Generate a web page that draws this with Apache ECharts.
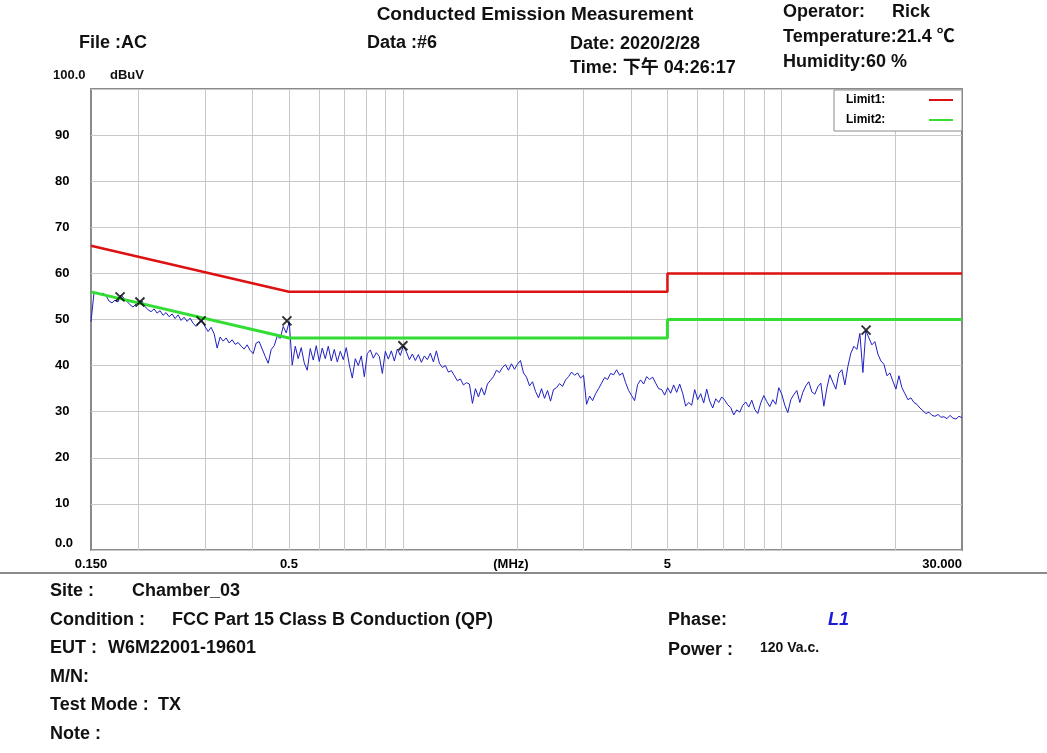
<!DOCTYPE html>
<html>
<head>
<meta charset="utf-8">
<script src="https://cdn.jsdelivr.net/npm/echarts@6/dist/echarts.min.js"></script>
<style>
  html, body { margin: 0; background: #fff; }
  #main { width: 1047px; height: 753px; }
</style>
</head>
<body>
<div id="main"></div>
<script>
  // receiver sweep, 0.15 - 30 MHz, log spaced points
  var sweepStart = 0.15;
  var sweepStop = 30;
  var level = [
    49.5, 55.8, 55.9, 55.6, 55.7, 55.2, 54.0, 53.6, 54.2, 53.8,
    55.3, 54.6, 53.9, 53.2, 52.7, 53.4, 53.9, 54.0, 52.8, 52.1,
    51.7, 52.3, 51.4, 51.9, 50.9, 51.5, 50.6, 51.2, 50.2, 51.0,
    49.8, 50.5, 49.6, 50.3, 49.2, 48.5, 49.4, 49.8, 48.4, 47.4,
    48.3, 46.9, 43.8, 46.2, 45.3, 46.0, 44.9, 45.6, 44.6, 45.0,
    44.2, 43.6, 44.5, 43.3, 42.6, 44.9, 45.2, 43.6, 42.0, 40.5,
    43.5, 44.3, 46.4, 45.9, 48.5, 47.1, 49.5, 40.1, 44.2, 41.5,
    43.9, 40.6, 39.0, 43.7, 41.2, 44.3, 40.9, 43.8, 41.5, 44.2,
    41.0, 43.5, 40.8, 43.1, 41.3, 43.9, 40.2, 37.3, 41.5, 40.0,
    42.1, 37.6, 42.6, 43.4, 41.6, 42.8, 42.0, 38.3, 43.1, 41.4,
    43.2, 41.0, 43.6, 42.2, 44.3, 43.0, 41.3, 42.5, 41.1, 42.4,
    40.7, 42.1, 41.3, 42.7, 40.8, 43.2, 40.5, 39.6, 40.0, 38.6,
    38.9, 37.8, 36.7, 37.1, 35.8, 36.3, 36.0, 31.8, 35.0, 33.2,
    35.2, 33.6, 36.0, 36.8, 37.6, 39.0, 38.5, 39.6, 40.2, 39.0,
    40.4, 39.2, 40.3, 41.1, 38.4, 37.5, 35.6, 36.5, 34.4, 33.0,
    35.0, 32.9, 34.6, 32.3, 34.8, 35.2, 36.1, 35.5, 36.9, 37.6,
    38.6, 37.9, 38.4, 37.3, 37.9, 31.6, 33.4, 32.4, 33.9, 35.0,
    36.2, 37.4, 37.0, 38.3, 38.0, 39.1, 37.9, 38.4, 36.3, 34.6,
    33.5, 32.4, 35.9, 36.9, 36.0, 37.6, 37.0, 37.5, 36.2, 35.0,
    34.8, 33.6, 35.2, 34.0, 35.8, 34.2, 36.0, 34.0, 31.2, 32.0,
    31.4, 34.8, 32.6, 33.9, 31.9, 34.9, 32.3, 30.8, 32.8, 32.0,
    33.2, 32.5, 31.5, 30.9, 29.3, 30.4, 29.9, 31.4, 32.1, 31.0,
    32.5, 30.5, 29.6, 31.9, 33.5, 32.2, 31.1, 32.6, 31.6, 35.2,
    33.8, 31.4, 29.8, 32.6, 33.7, 34.6, 32.0, 34.2, 35.6, 36.5,
    34.3, 33.8, 35.4, 36.2, 31.2, 35.1, 38.0, 36.4, 34.9, 38.3,
    39.1, 35.8, 39.8, 42.7, 44.2, 43.5, 47.0, 38.5, 47.6, 46.0,
    44.5, 45.2, 42.5, 41.0, 40.3, 37.8, 38.4, 36.6, 34.9, 37.8,
    35.2, 33.9, 32.6, 33.0, 32.0, 31.6, 30.8, 30.2, 29.6, 29.9,
    29.2, 29.0, 29.4, 28.8, 28.9, 28.5, 29.2, 28.6, 28.4, 29.0,
    28.7
  ];

  var limit1Freq = [0.15, 0.5, 5, 5, 30];
  var limit1Level = [66, 56, 56, 60, 60];
  var limit2Freq = [0.15, 0.5, 5, 5, 30];
  var limit2Level = [56, 46, 46, 50, 50];

  // peaks marked with X
  var peakFreq = [0.179, 0.202, 0.293, 0.494, 1.0, 16.74];
  var peakLevel = [54.9, 53.8, 49.7, 49.7, 44.3, 47.7];

  var gridFreq = [0.2, 0.3, 0.4, 0.5, 0.6, 0.7, 0.8, 0.9, 1, 2, 3, 4, 5, 6, 7, 8, 9, 10, 20];
  var xLabelFreq = [0.15, 0.5, 1.93, 5, 30];
  var xLabelText = ['0.150', '0.5', '(MHz)', '5', '30.000'];

  var FONT = 'Arial, "Liberation Sans", "Noto Sans CJK SC", sans-serif';

  var trace = [];
  for (var i = 0; i < level.length; i++) {
    var f = sweepStart * Math.pow(sweepStop / sweepStart, i / (level.length - 1));
    trace.push([f, level[i]]);
  }
  function pairs(xs, ys) {
    return xs.map(function (x, k) { return [x, ys[k]]; });
  }

  function txt(x, y, s, size, opt) {
    opt = opt || {};
    return {
      type: 'text', x: x, y: y, silent: true,
      style: {
        text: s,
        font: (opt.italic ? 'italic ' : '') + (opt.weight || 'bold') + ' ' + size + 'px ' + FONT,
        fill: opt.color || '#111',
        align: opt.align || 'left', textAlign: opt.align || 'left',
        verticalAlign: 'middle', textVerticalAlign: 'middle'
      }
    };
  }

  var chart = echarts.init(document.getElementById('main'));

  chart.setOption({
    backgroundColor: '#fff',
    animation: false,
    grid: {
      left: 91, right: 85, top: 89, bottom: 203,
      show: true, borderColor: '#8a8a8a', borderWidth: 2, backgroundColor: '#fff'
    },
    legend: {
      data: ['Limit1:', 'Limit2:'],
      orient: 'vertical', right: 85, top: 90,
      align: 'right', icon: 'rect', itemWidth: 24, itemHeight: 2,
      itemGap: 8, padding: [4, 9, 5, 12],
      backgroundColor: '#fff', borderColor: '#8a8a8a', borderWidth: 1,
      selectedMode: false,
      formatter: '{a|{name}}',
      textStyle: {
        fontFamily: FONT, fontWeight: 'bold', fontSize: 12, color: '#000',
        rich: { a: { width: 78, align: 'left', fontFamily: FONT, fontWeight: 'bold', fontSize: 12, color: '#000' } }
      }
    },
    xAxis: {
      type: 'log', logBase: 10, min: 0.15, max: 30,
      axisLine: { show: false },
      axisTick: { show: false, customValues: gridFreq },
      splitLine: { show: true, lineStyle: { color: '#c8c8c8', width: 1 } },
      axisLabel: {
        customValues: xLabelFreq,
        margin: 8,
        fontFamily: FONT, fontWeight: 'bold', fontSize: 13, color: '#000',
        alignMaxLabel: 'right',
        formatter: function (v) {
          for (var k = 0; k < xLabelFreq.length; k++) {
            if (Math.abs(xLabelFreq[k] - v) / xLabelFreq[k] < 0.01) return xLabelText[k];
          }
          return '';
        }
      }
    },
    yAxis: {
      type: 'value', min: 0, max: 100, interval: 10,
      axisLine: { show: false },
      axisTick: { show: false },
      splitLine: { show: true, lineStyle: { color: '#c8c8c8', width: 1 } },
      axisLabel: {
        align: 'left', margin: 36,
        fontFamily: FONT, fontWeight: 'bold', fontSize: 13, color: '#000',
        verticalAlignMinLabel: 'bottom',
        formatter: function (v) {
          if (v === 0) return '0.0';
          if (v === 100) return '';
          return String(v);
        }
      }
    },
    series: [
      {
        name: 'Level', type: 'line', data: trace, showSymbol: false, symbol: 'none',
        lineStyle: { color: '#1f1fc4', width: 1 }, z: 2
      },
      {
        name: 'Limit1:', type: 'line', data: pairs(limit1Freq, limit1Level), symbol: 'none',
        color: '#dd1111', lineStyle: { color: '#dd1111', width: 2.5 }, z: 3
      },
      {
        name: 'Limit2:', type: 'line', data: pairs(limit2Freq, limit2Level), symbol: 'none',
        color: '#33dd33', lineStyle: { color: '#33dd33', width: 3 }, z: 3
      },
      {
        name: 'Peak', type: 'scatter', data: pairs(peakFreq, peakLevel),
        symbol: 'path://M0,0L10,10M10,0L0,10', symbolSize: 9,
        itemStyle: { color: 'rgba(0,0,0,0)', borderColor: '#000', borderWidth: 2 }, z: 4
      }
    ],
    graphic: {
      elements: [
        txt(535, 15, 'Conducted Emission Measurement', 19, { align: 'center' }),
        txt(79, 43, 'File :AC', 18),
        txt(367, 43, 'Data :#6', 18),
        txt(570, 44, 'Date: 2020/2/28', 18),
        txt(570, 68, 'Time: 下午 04:26:17', 18),
        txt(783, 12, 'Operator:', 18),
        txt(892, 12, 'Rick', 18),
        txt(783, 37, 'Temperature:21.4 ℃', 18),
        txt(783, 62, 'Humidity:60 %', 18),
        txt(53, 75, '100.0', 13),
        txt(110, 75, 'dBuV', 13),
        {
          type: 'line', silent: true,
          shape: { x1: 0, y1: 573, x2: 1047, y2: 573 },
          style: { stroke: '#8a8a8a', lineWidth: 2 }
        },
        txt(50, 591, 'Site :', 18),
        txt(132, 591, 'Chamber_03', 18),
        txt(50, 620, 'Condition :', 18),
        txt(172, 620, 'FCC Part 15 Class B Conduction (QP)', 18),
        txt(50, 648, 'EUT :', 18),
        txt(108, 648, 'W6M22001-19601', 18),
        txt(50, 677, 'M/N:', 18),
        txt(50, 705, 'Test Mode :', 18),
        txt(158, 705, 'TX', 18),
        txt(50, 734, 'Note :', 18),
        txt(668, 620, 'Phase:', 18),
        txt(828, 620, 'L1', 18, { italic: true, color: '#1a1ad8' }),
        txt(668, 650, 'Power :', 18),
        txt(760, 648, '120 Va.c.', 14)
      ]
    }
  });
</script>
</body>
</html>
